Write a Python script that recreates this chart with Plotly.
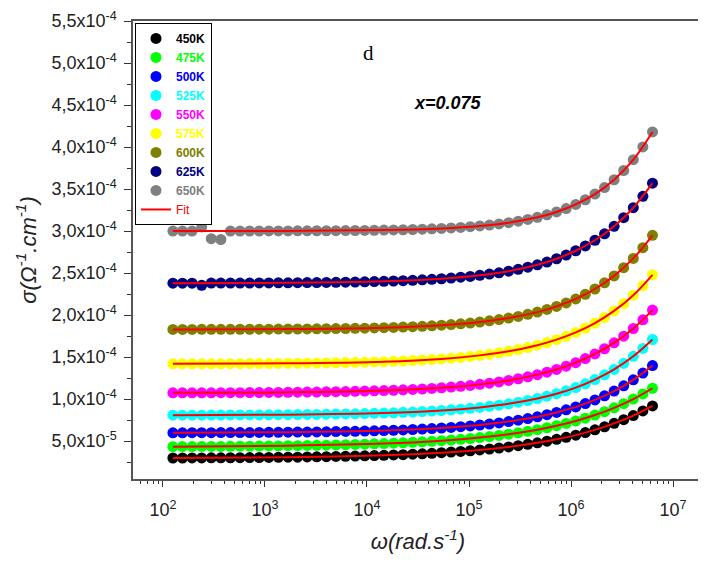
import plotly.graph_objects as go

UNIT = 1e-5  # all conductivity arrays below are in units of 1e-5 Ohm^-1 cm^-1

OMEGA = [125.3, 155.6, 193.2, 239.9, 297.9, 369.8, 459.2, 570.2, 707.9, 879.0,
         1091, 1355, 1683, 2089, 2594, 3221, 4000, 4966, 6166, 7656,
         9506, 11800, 14660, 18200, 22590, 28050, 34830, 43250, 53700, 66680,
         82790, 102800, 127600, 158500, 196800, 244300, 303400, 376700, 467700, 580800,
         721100, 895400, 1112000, 1380000, 1714000, 2128000, 2642000, 3281000, 4074000, 5058000,
         6281000]

S450 = [3.00, 3.00, 3.01, 3.01, 3.02, 3.02, 3.03, 3.04, 3.05, 3.06,
        3.07, 3.08, 3.09, 3.10, 3.12, 3.14, 3.16, 3.18, 3.20, 3.23,
        3.26, 3.29, 3.32, 3.36, 3.40, 3.45, 3.50, 3.56, 3.63, 3.70,
        3.78, 3.86, 3.96, 4.07, 4.19, 4.32, 4.46, 4.63, 4.80, 5.00,
        5.22, 5.46, 5.72, 6.02, 6.35, 6.71, 7.12, 7.56, 8.05, 8.60, 9.20]
S475 = [4.35, 4.36, 4.36, 4.37, 4.37, 4.38, 4.39, 4.40, 4.41, 4.42,
        4.43, 4.44, 4.46, 4.47, 4.49, 4.51, 4.53, 4.55, 4.58, 4.61,
        4.64, 4.68, 4.71, 4.76, 4.81, 4.86, 4.92, 4.98, 5.06, 5.14,
        5.22, 5.32, 5.43, 5.55, 5.68, 5.83, 6.00, 6.18, 6.37, 6.60,
        6.84, 7.11, 7.41, 7.74, 8.11, 8.51, 8.97, 9.46, 10.01, 10.62, 11.30]
S500 = [6.00, 6.00, 6.01, 6.01, 6.01, 6.02, 6.02, 6.03, 6.03, 6.04,
        6.05, 6.06, 6.07, 6.08, 6.09, 6.10, 6.12, 6.14, 6.16, 6.18,
        6.21, 6.23, 6.27, 6.30, 6.34, 6.39, 6.44, 6.50, 6.57, 6.64,
        6.72, 6.82, 6.92, 7.04, 7.17, 7.33, 7.50, 7.69, 7.90, 8.15,
        8.42, 8.73, 9.08, 9.47, 9.91, 10.40, 10.96, 11.59, 12.30, 13.10, 14.00]
S525 = [8.10, 8.10, 8.10, 8.10, 8.11, 8.11, 8.12, 8.12, 8.13, 8.13,
        8.14, 8.15, 8.16, 8.17, 8.18, 8.19, 8.21, 8.22, 8.24, 8.26,
        8.29, 8.32, 8.35, 8.38, 8.43, 8.47, 8.52, 8.58, 8.65, 8.73,
        8.81, 8.91, 9.02, 9.15, 9.29, 9.45, 9.64, 9.84, 10.08, 10.35,
        10.65, 10.99, 11.38, 11.82, 12.33, 12.90, 13.54, 14.27, 15.10, 16.04, 17.10]
S550 = [10.75, 10.75, 10.75, 10.76, 10.76, 10.77, 10.77, 10.77, 10.78, 10.79,
        10.80, 10.80, 10.81, 10.83, 10.84, 10.85, 10.87, 10.89, 10.91, 10.93,
        10.96, 10.99, 11.02, 11.06, 11.11, 11.16, 11.21, 11.28, 11.35, 11.44,
        11.53, 11.64, 11.76, 11.90, 12.05, 12.23, 12.43, 12.66, 12.92, 13.21,
        13.54, 13.92, 14.34, 14.83, 15.38, 16.00, 16.70, 17.50, 18.41, 19.44, 20.60]
S575 = [14.20, 14.20, 14.20, 14.20, 14.21, 14.21, 14.22, 14.22, 14.23, 14.23,
        14.24, 14.25, 14.26, 14.27, 14.28, 14.29, 14.31, 14.33, 14.35, 14.37,
        14.40, 14.43, 14.46, 14.50, 14.54, 14.59, 14.65, 14.72, 14.79, 14.88,
        14.97, 15.08, 15.21, 15.35, 15.51, 15.69, 15.90, 16.14, 16.42, 16.73,
        17.08, 17.48, 17.94, 18.46, 19.05, 19.72, 20.50, 21.37, 22.37, 23.50, 24.80]
S600 = [18.30, 18.30, 18.30, 18.31, 18.31, 18.31, 18.31, 18.32, 18.32, 18.33,
        18.33, 18.34, 18.34, 18.35, 18.36, 18.37, 18.38, 18.40, 18.41, 18.43,
        18.45, 18.48, 18.51, 18.54, 18.58, 18.62, 18.67, 18.73, 18.80, 18.87,
        18.96, 19.06, 19.18, 19.32, 19.47, 19.65, 19.85, 20.09, 20.36, 20.68,
        21.04, 21.45, 21.93, 22.48, 23.11, 23.84, 24.67, 25.64, 26.75, 28.03, 29.50]
S625 = [23.80, 23.80, 23.80, 23.55, 23.81, 23.81, 23.82, 23.82, 23.82, 23.83,
        23.83, 23.84, 23.85, 23.86, 23.87, 23.88, 23.89, 23.90, 23.92, 23.94,
        23.97, 23.99, 24.02, 24.06, 24.10, 24.14, 24.20, 24.26, 24.33, 24.41,
        24.51, 24.61, 24.74, 24.88, 25.04, 25.23, 25.45, 25.70, 25.99, 26.32,
        26.71, 27.15, 27.66, 28.24, 28.91, 29.68, 30.57, 31.60, 32.78, 34.14, 35.70]
S650 = [30.00, 30.00, 30.00, 30.50, 29.10, 29.00, 30.00, 30.00, 30.01, 30.01,
        30.02, 30.02, 30.02, 30.03, 30.03, 30.04, 30.04, 30.05, 30.06, 30.07,
        30.08, 30.10, 30.12, 30.14, 30.16, 30.19, 30.23, 30.27, 30.32, 30.37,
        30.44, 30.52, 30.61, 30.72, 30.85, 31.00, 31.18, 31.39, 31.64, 31.93,
        32.28, 32.68, 33.17, 33.73, 34.40, 35.18, 36.11, 37.21, 38.50, 40.01, 41.80]

OMEGA_FIT = [125.3, 1683, 14660, 53700, 127600, 244300, 467700, 721100,
             1112000, 1714000, 2642000, 4074000, 6281000]
F450 = [3.00, 3.09, 3.32, 3.63, 3.96, 4.32, 4.80, 5.22, 5.72, 6.35, 7.12, 8.05, 9.20]
F475 = [4.35, 4.46, 4.71, 5.06, 5.43, 5.83, 6.37, 6.84, 7.41, 8.11, 8.97, 10.01, 11.30]
F500 = [6.00, 6.07, 6.27, 6.57, 6.92, 7.33, 7.90, 8.42, 9.08, 9.91, 10.96, 12.30, 14.00]
F525 = [8.10, 8.16, 8.35, 8.65, 9.02, 9.45, 10.08, 10.65, 11.38, 12.33, 13.54, 15.10, 17.10]
F550 = [10.75, 10.81, 11.02, 11.35, 11.76, 12.23, 12.92, 13.54, 14.34, 15.38, 16.70, 18.41, 20.60]
F575 = [14.20, 14.26, 14.46, 14.79, 15.21, 15.69, 16.42, 17.08, 17.94, 19.05, 20.50, 22.37, 24.80]
F600 = [18.30, 18.34, 18.51, 18.80, 19.18, 19.65, 20.36, 21.04, 21.93, 23.11, 24.67, 26.75, 29.50]
F625 = [23.80, 23.85, 24.02, 24.33, 24.74, 25.23, 25.99, 26.71, 27.66, 28.91, 30.57, 32.78, 35.70]
F650 = [30.00, 30.02, 30.12, 30.32, 30.61, 31.00, 31.64, 32.28, 33.17, 34.40, 36.11, 38.50, 41.80]

LABELS = ["450K", "475K", "500K", "525K", "550K", "575K", "600K", "625K", "650K"]
COLORS = ["#000000", "#00ff00", "#0000ff", "#00ffff", "#ff00ff",
          "#ffff00", "#808000", "#000080", "#808080"]
DATA = [S450, S475, S500, S525, S550, S575, S600, S625, S650]
FITS = [F450, F475, F500, F525, F550, F575, F600, F625, F650]

Y_TICKS = [5e-5, 1e-4, 1.5e-4, 2e-4, 2.5e-4, 3e-4, 3.5e-4, 4e-4, 4.5e-4, 5e-4, 5.5e-4]
Y_TICKTEXT = ["5,0x10<sup>-5</sup>", "1,0x10<sup>-4</sup>", "1,5x10<sup>-4</sup>",
              "2,0x10<sup>-4</sup>", "2,5x10<sup>-4</sup>", "3,0x10<sup>-4</sup>",
              "3,5x10<sup>-4</sup>", "4,0x10<sup>-4</sup>", "4,5x10<sup>-4</sup>",
              "5,0x10<sup>-4</sup>", "5,5x10<sup>-4</sup>"]
Y_MINOR = [2.5e-5, 7.5e-5, 1.25e-4, 1.75e-4, 2.25e-4, 2.75e-4, 3.25e-4,
           3.75e-4, 4.25e-4, 4.75e-4, 5.25e-4]
X_TICKS = [1e2, 1e3, 1e4, 1e5, 1e6, 1e7]
X_TICKTEXT = ["10<sup>2</sup>", "10<sup>3</sup>", "10<sup>4</sup>",
              "10<sup>5</sup>", "10<sup>6</sup>", "10<sup>7</sup>"]
X_MINOR = [m * 10 ** e for e in range(1, 8) for m in range(2, 10)]

FONT = "Liberation Sans, Arial, sans-serif"

fig = go.Figure()
for lab, col, ys in zip(LABELS, COLORS, DATA):
    fig.add_trace(go.Scatter(
        x=OMEGA, y=[v * UNIT for v in ys], mode="markers",
        marker=dict(color=col, size=11, line=dict(width=0)),
        name=f"<b><span style='color:{col}'>{lab}</span></b>",
    ))
for k, ys in enumerate(FITS):
    fig.add_trace(go.Scatter(
        x=OMEGA_FIT, y=[v * UNIT for v in ys], mode="lines",
        line=dict(color="#ff0000", width=2, shape="spline"),
        name="<span style='color:#ff0000'>Fit</span>",
        legendgroup="fit", showlegend=(k == 0),
    ))

fig.add_annotation(x=0.414, y=0.931, xref="paper", yref="paper", text="d",
                   xanchor="center", yanchor="middle", showarrow=False,
                   font=dict(family="Liberation Serif, Times New Roman, serif",
                             size=21, color="#000"))
fig.add_annotation(x=0.5524, y=0.8203, xref="paper", yref="paper", text="<b><i>x=0.075</i></b>",
                   xanchor="center", yanchor="middle", showarrow=False,
                   font=dict(family=FONT, size=18, color="#000"))

fig.update_layout(
    width=698, height=555,
    margin=dict(l=125, r=1, t=9, b=84),
    paper_bgcolor="white", plot_bgcolor="white",
    font=dict(family=FONT, color="#222"),
    showlegend=True,
    legend=dict(x=0.0035, y=0.9957, xanchor="left", yanchor="top",
                bordercolor="#000", borderwidth=1, bgcolor="white",
                font=dict(family=FONT, size=12), tracegroupgap=0),
    xaxis=dict(type="log", range=[1.707, 7.293], tickvals=X_TICKS, ticktext=X_TICKTEXT,
               ticks="outside", ticklen=6, tickwidth=1, tickcolor="#333",
               ticklabelstandoff=8, ticklabeloverflow="allow",
               minor=dict(tickvals=X_MINOR, ticks="outside", ticklen=3, tickcolor="#333"),
               showline=True, linecolor="#555", linewidth=1.5, mirror=True,
               showgrid=False, zeroline=False, tickfont=dict(size=18, color="#222"),
               title=dict(text="<i>ω(rad.s<sup>-1</sup>)</i>", font=dict(size=22, color="#222"),
                          standoff=14)),
    yaxis=dict(range=[5e-6, 5.5e-4], tickvals=Y_TICKS, ticktext=Y_TICKTEXT,
               ticks="outside", ticklen=7, tickwidth=1, tickcolor="#333",
               ticklabelstandoff=4, ticklabeloverflow="allow",
               minor=dict(tickvals=Y_MINOR, ticks="outside", ticklen=4, tickcolor="#333"),
               showline=True, linecolor="#555", linewidth=1.5, mirror=True,
               showgrid=False, zeroline=False, tickfont=dict(size=18, color="#222"),
               title=dict(text="<i>σ(Ω<sup>-1</sup>.cm<sup>-1</sup>)</i>",
                          font=dict(size=22, color="#222"), standoff=9)),
)

fig.write_html("out.html")
